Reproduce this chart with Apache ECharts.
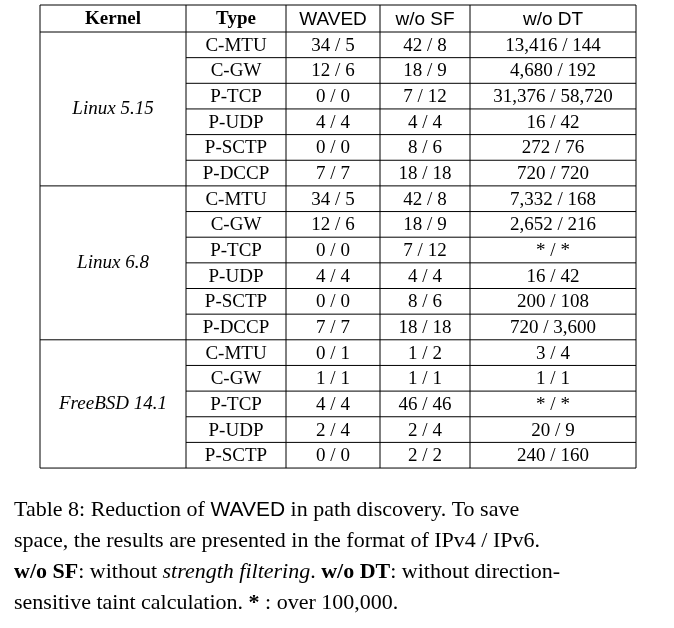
<!DOCTYPE html>
<html><head><meta charset="utf-8">
<script src="https://cdn.jsdelivr.net/npm/echarts@6/dist/echarts.min.js"></script>
<style>html,body{margin:0;background:#fff}#main{width:674px;height:628px}</style>
</head><body><div id="main"></div>
<script>
(function() {
var myChart = echarts.init(document.getElementById('main'));
var groups = [
	{ kernel: 'Linux 5.15', rows: [
		['C-MTU', '34 / 5', '42 / 8', '13,416 / 144'],
		['C-GW', '12 / 6', '18 / 9', '4,680 / 192'],
		['P-TCP', '0 / 0', '7 / 12', '31,376 / 58,720'],
		['P-UDP', '4 / 4', '4 / 4', '16 / 42'],
		['P-SCTP', '0 / 0', '8 / 6', '272 / 76'],
		['P-DCCP', '7 / 7', '18 / 18', '720 / 720']
	]},
	{ kernel: 'Linux 6.8', rows: [
		['C-MTU', '34 / 5', '42 / 8', '7,332 / 168'],
		['C-GW', '12 / 6', '18 / 9', '2,652 / 216'],
		['P-TCP', '0 / 0', '7 / 12', '* / *'],
		['P-UDP', '4 / 4', '4 / 4', '16 / 42'],
		['P-SCTP', '0 / 0', '8 / 6', '200 / 108'],
		['P-DCCP', '7 / 7', '18 / 18', '720 / 3,600']
	]},
	{ kernel: 'FreeBSD 14.1', rows: [
		['C-MTU', '0 / 1', '1 / 2', '3 / 4'],
		['C-GW', '1 / 1', '1 / 1', '1 / 1'],
		['P-TCP', '4 / 4', '46 / 46', '* / *'],
		['P-UDP', '2 / 4', '2 / 4', '20 / 9'],
		['P-SCTP', '0 / 0', '2 / 2', '240 / 160']
	]}
];
var cols = [40, 186, 286, 380, 470, 636];
var y0 = 5, headH = 27, rowH = 25.65;
var serif = '"Liberation Serif", "DejaVu Serif", serif';
var sans = '"Liberation Sans", Arial, sans-serif';
var els = [];
var nRows = 0;
groups.forEach(function(g) { nRows += g.rows.length; });
var y1 = y0 + headH + rowH * nRows;

function line(xa, ya, xb, yb) {
	els.push({ type: 'line', shape: { x1: xa, y1: ya, x2: xb, y2: yb }, style: { stroke: '#000', lineWidth: 1 } });
}
function text(s, x, y, font, weight, italic) {
	els.push({ type: 'text', x: x, y: y, style: { text: s, align: 'center', verticalAlign: 'middle',
		fontFamily: font, fontSize: 19, fontWeight: weight || 'normal', fontStyle: italic ? 'italic' : 'normal', fill: '#000' } });
}
line(cols[0], y0, cols[5], y0);
line(cols[0], y0 + headH, cols[5], y0 + headH);
cols.forEach(function(c) { line(c, y0, c, y1); });
var heads = [['Kernel', serif, 'bold'], ['Type', serif, 'bold'], ['WAVED', sans], ['w/o SF', sans], ['w/o DT', sans]];
heads.forEach(function(h, i) { text(h[0], (cols[i] + cols[i + 1]) / 2, y0 + headH / 2 + 1, h[1], h[2]); });
var y = y0 + headH;
groups.forEach(function(g) {
	var gTop = y;
	g.rows.forEach(function(r, k) {
		r.forEach(function(v, j) { text(v, (cols[j + 1] + cols[j + 2]) / 2, y + rowH / 2 + 1, serif); });
		y += rowH;
		if (k < g.rows.length - 1) line(cols[1], y, cols[5], y);
	});
	line(cols[0], y, cols[5], y);
	text(g.kernel, (cols[0] + cols[1]) / 2, (gTop + y) / 2, serif, 'normal', true);
});
var rich = {
	s: { fontFamily: sans, fontSize: 21 },
	b: { fontFamily: serif, fontSize: 22, fontWeight: 'bold' },
	i: { fontFamily: serif, fontSize: 22, fontStyle: 'italic' }
};
var caption = [
	'Table 8: Reduction of {s|WAVED} in path discovery. To save',
	'space, the results are presented in the format of IPv4 / IPv6.',
	'{b|w/o SF}: without {i|strength filtering}. {b|w/o DT}: without direction-',
	'sensitive taint calculation. {b|*} : over 100,000.'
];
caption.forEach(function(c, i) {
	els.push({ type: 'text', x: 14, y: 510 + i * 31, style: { text: c, rich: rich, verticalAlign: 'middle',
		fontFamily: serif, fontSize: 22, fill: '#000' } });
});
var option = { animation: false, graphic: { elements: els } };
myChart.setOption(option);
})();
</script></body></html>
